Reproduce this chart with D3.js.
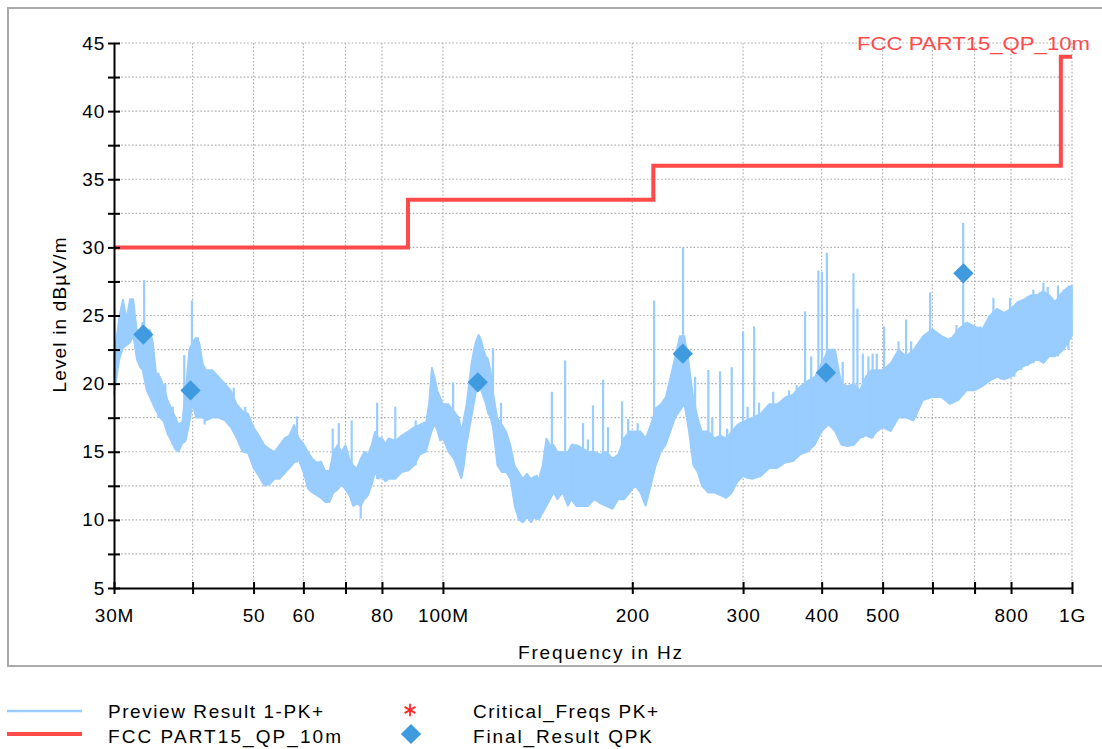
<!DOCTYPE html>
<html><head><meta charset="utf-8">
<script src="https://cdn.jsdelivr.net/npm/d3@7"></script>
<style>
body{margin:0;background:#fff}
svg text{font-family:"Liberation Sans",Arial,Helvetica,sans-serif;fill:#000}
</style>
</head><body>
<svg id="c" width="1102" height="749"></svg>
<script>
// ---- data (frequencies in MHz, levels in dBµV/m) ----
const envFreq = [30,30.3,30.6,31,31.4,31.8,32.2,32.6,33,33.3,33.8,34.2,34.6,35,35.5,36,36.5,37,37.5,38,38.5,39,39.5,40,40.5,41,41.5,42,43,44,45,46,47,48,49,50,51,52,53,54,55,56,57,58,59,60,61,62,63,64,65,66,67,68,69,70,71,72,73,74,75,76,77,78,79,80,81,82,84,86,88,90,92,94,95,96,97,98,99,100,102,104,106,107,108,109,110,111,112,113,114,115,116,117,118,119,120,121,122,124,126,128,130,132,134,136,138,140,142,144,146,148,150,152,155,158,160,163,166,170,174,178,182,186,190,194,198,202,206,210,214,218,222,226,230,234,238,242,246,250,254,258,264,270,276,282,288,294,300,310,320,330,340,350,360,370,380,390,400,410,420,430,440,450,460,470,480,490,500,515,530,545,560,580,600,620,640,660,680,700,720,740,760,780,800,820,840,860,880,900,920,940,960,980,1000];
const envHi = [22.0,23.5,25.0,26.2,24.8,26.2,26.2,24.0,23.8,24.5,23.6,24.0,23.0,20.8,20.5,19.8,18.8,18.2,17.6,17.0,17.2,19.5,22.5,23.0,23.4,23.0,21.5,21.0,21.0,20.5,20.0,19.5,18.5,18.0,17.8,16.8,16.2,15.5,15.2,15.0,15.5,16.0,16.2,17.0,16.0,15.6,15.0,14.5,14.2,14.3,13.6,13.6,15.0,15.5,15.0,15.5,14.5,14.0,13.8,14.5,15.0,14.8,15.5,16.5,16.0,16.0,15.6,16.0,15.8,16.2,16.5,16.8,17.0,17.2,18.5,21.2,20.5,19.5,19.0,18.5,18.5,18.0,17.5,16.5,17.5,18.5,20.0,21.5,22.5,23.2,23.6,23.2,22.5,22.0,21.8,21.0,19.5,18.5,17.5,17.0,16.5,15.5,14.0,13.5,13.0,13.4,13.0,13.2,13.0,14.0,16.0,15.5,15.5,15.0,15.0,15.0,15.5,15.5,15.3,15.0,15.0,14.8,15.0,14.5,14.8,16.0,16.5,16.5,16.5,16.0,17.0,18.2,18.5,19.0,20.5,22.0,23.5,23.5,21.5,19.0,17.5,16.5,16.5,16.0,16.2,16.0,16.5,17.0,17.2,17.5,17.8,18.5,18.5,19.0,19.2,19.8,20.2,20.5,21.5,22.5,22.5,20.0,19.8,20.0,19.5,20.5,21.0,21.0,21.0,21.5,22.5,22.0,22.5,23.5,24.0,23.5,23.2,24.0,24.5,24.2,24.0,25.0,25.5,25.2,25.5,26.0,26.2,26.5,26.5,26.8,26.5,26.0,26.6,27.0,27.2];
const envLo = [19.2,20.5,21.8,22.6,22.8,23.0,23.5,21.8,21.2,21.0,19.5,19.0,18.5,18.0,17.5,17.2,16.3,15.8,15.2,15.0,15.6,15.8,17.0,18.5,17.5,17.5,17.5,17.3,17.5,17.5,17.3,16.8,16.0,15.0,14.9,13.8,13.2,12.5,12.6,13.0,13.0,13.4,13.8,14.2,14.4,13.5,12.3,12.0,11.8,11.6,11.3,11.3,12.0,12.2,12.6,12.2,11.8,11.0,11.2,11.0,11.5,11.8,12.5,13.5,13.0,13.2,12.8,13.0,13.0,13.5,13.6,14.0,14.8,15.0,15.8,16.5,17.0,16.5,15.8,16.0,15.0,14.5,13.5,13.0,14.0,15.5,16.5,17.5,18.5,19.5,19.8,19.5,19.0,18.5,17.8,17.5,16.8,15.5,14.0,13.5,13.5,13.0,11.0,10.0,9.8,10.2,9.8,10.2,10.0,10.5,11.0,11.5,12.0,11.5,12.0,11.0,11.5,11.0,11.0,11.0,11.5,11.2,11.0,10.8,11.5,11.5,12.0,12.5,12.0,11.0,12.5,14.0,15.0,15.5,16.5,17.5,18.0,18.5,16.5,14.0,13.5,12.5,12.0,12.0,11.8,11.6,12.0,12.8,13.2,13.0,13.2,13.8,13.8,14.2,14.3,14.8,15.0,15.5,16.5,17.0,16.5,15.5,15.4,15.5,16.0,16.2,16.0,16.5,16.8,16.5,17.5,17.5,17.3,18.8,19.0,19.0,18.5,18.8,19.5,19.5,19.8,20.2,20.5,20.3,20.5,21.0,21.3,21.5,21.8,21.5,22.0,22.0,22.3,22.8,23.5];

const spikeFreq = [33.5,38.8,39.9,40.8,71.6,74,78.6,84,103.8,120.1,123.7,149,156.4,167,173.2,179.7,192.6,216.6,240.8,251.7,264.2,275.8,287.8,300,312.4,335,376.4,395.2,400.3,407.7,449.4,456,474.6,489.4,502.7,544.8,595,671.5,697,750,797,868,900.6,950,987,
  35.3,36.2,37.2,41.8,46.5,48.5,58.6,66.8,68.3,90.5,141,160.7,170,183,197,204,209,268,283,305,318,345,355,365,385,432,465,482,530,555,565,585,610,640,655,690,715,730,770,810,830,850,890,915,970];
const spikeTop  = [27.6,22.1,26.1,23.4,17.3,13.0,18.6,18.3,20.1,22.6,18.6,19.4,21.7,17.1,18.4,20.3,18.7,26.1,30.0,20.5,21.0,20.9,21.2,23.8,24.2,19.4,25.3,28.3,28.2,29.6,28.1,25.5,22.0,22.2,24.2,24.7,26.7,31.8,24.3,26.3,26.3,26.9,27.4,27.2,27.2,
  20.8,20.0,18.3,20.8,19.7,18.3,17.6,16.7,17.1,17.3,13.3,15.6,15.9,16.8,17.4,17.1,16.1,17.5,16.7,18.3,18.6,18.7,19.5,19.9,22.0,21.6,22.2,22.2,23.1,23.1,22.3,23.2,23.7,23.4,24.3,24.2,24.2,23.6,25.3,24.8,25.9,26.4,26.7,27.1,26.9];
const spikeBase = [22,16,18.5,18,12,10.1,13,14,15,17,14,12,12,12,12,12,12,15,20,14,13,12.5,12.5,15,15,14,16,17,17,18,16,16,16.5,16.5,17,17.5,19,20,19.5,20.5,20.5,21.5,21.5,22,22.5,
  17.5,16.8,15.5,17,16.5,15,14.2,12,12.5,14,10,11.5,11,11,12,12.5,11.5,12,11.8,13,13.2,14,14.2,14.5,15.5,15.5,16,16,17.5,17.3,17.5,18.8,19,18.5,18.8,19.5,19.8,20,20.3,20.5,21,21.3,21.8,22,22.5];

const limitFreq  = [30, 88, 216, 960, 1000];
const limitLevel = [30, 33.5, 36, 44, 44];

const qpkFreq  = [33.4, 39.7, 113.6, 240.6, 406.5, 672];
const qpkLevel = [23.6, 19.5, 20.1, 22.2, 20.8, 28.1];

const xTickValues = [30,40,50,60,70,80,100,200,300,400,500,600,700,800,1000];
const xTickText   = ["30M","","50","60","","80","100M","200","300","400","500","","","800","1G"];
const yTickValues = [5,7.5,10,12.5,15,17.5,20,22.5,25,27.5,30,32.5,35,37.5,40,42.5,45];

const legendItems = ["Preview Result 1-PK+","FCC PART15_QP_10m","Critical_Freqs PK+","Final_Result QPK"];

// ---- drawing ----
const svg = d3.select("#c");
const x = d3.scaleLog().domain([30,1000]).range([114,1072]);
const y = d3.scaleLinear().domain([5,45]).range([588,43]);

const traceColor = "#99ccff", limitColor = "#ff4a4a", qpkColor = "#3f9ae0";

// frame
svg.append("rect").attr("x",8).attr("y",8).attr("width",1110).attr("height",658)
  .attr("fill","none").attr("stroke","#aaaaaa").attr("stroke-width",2);

// grid
const grid = svg.append("g").attr("stroke","#b0b0b0").attr("stroke-width",1.2).attr("stroke-dasharray","1.6,2");
grid.selectAll(".hg").data(yTickValues.slice(1)).join("line").attr("class","hg")
  .attr("x1",114).attr("x2",1072).attr("y1",d=>y(d)).attr("y2",d=>y(d));
grid.selectAll(".vg").data(xTickValues.slice(1)).join("line").attr("class","vg")
  .attr("x1",d=>x(d)).attr("x2",d=>x(d)).attr("y1",43).attr("y2",588);

// preview trace: envelope band + spikes
const env = envFreq.map((f,i)=>({f, hi:envHi[i], lo:envLo[i]}));
svg.append("path").datum(env)
  .attr("d", d3.area().x(d=>x(d.f)).y0(d=>y(d.lo)).y1(d=>y(d.hi)))
  .attr("fill",traceColor).attr("stroke",traceColor).attr("stroke-width",1.6).attr("stroke-linejoin","bevel");
const spikes = spikeFreq.map((f,i)=>({f, t:spikeTop[i], b:spikeBase[i]}));
svg.append("g").selectAll("line").data(spikes).join("line")
  .attr("x1",d=>x(d.f)).attr("x2",d=>x(d.f)).attr("y1",d=>y(d.b)).attr("y2",d=>y(d.t))
  .attr("stroke",traceColor).attr("stroke-width",2.2);

// limit line
const lim = limitFreq.map((f,i)=>[f,limitLevel[i]]);
svg.append("path").datum(lim)
  .attr("d", d3.line().x(d=>x(d[0])).y(d=>y(d[1])).curve(d3.curveStepAfter))
  .attr("fill","none").attr("stroke",limitColor).attr("stroke-width",4).attr("stroke-linejoin","miter");
svg.append("text").attr("x",1090).attr("y",50).attr("text-anchor","end")
  .attr("font-size",18.5).attr("textLength",233).attr("lengthAdjust","spacingAndGlyphs")
  .style("fill",limitColor).text(legendItems[1]);

// final QPK diamonds
const diamond = d3.symbol(d3.symbolSquare, 205);
svg.append("g").selectAll("path").data(qpkFreq.map((f,i)=>[f,qpkLevel[i]])).join("path")
  .attr("d", diamond)
  .attr("transform", d=>`translate(${x(d[0])},${y(d[1])}) rotate(45)`)
  .attr("fill",qpkColor);

// axes
const xAxis = d3.axisBottom(x).tickValues(xTickValues)
  .tickFormat((d,i)=>xTickText[i]).tickSizeInner(6).tickSizeOuter(0);
const gx = svg.append("g").attr("transform","translate(0,588)").call(xAxis);
gx.select(".domain").attr("stroke","#000").attr("stroke-width",2);
gx.selectAll(".tick line").attr("y1",-6).attr("y2",6).attr("stroke","#000").attr("stroke-width",2);
gx.selectAll(".tick text").attr("y",21).attr("font-size",19).attr("letter-spacing","0.8px")
  .attr("font-family","Liberation Sans, Arial, sans-serif");

const yAxis = d3.axisLeft(y).tickValues(yTickValues)
  .tickFormat(d=> d%5===0 ? String(d) : "").tickSizeInner(6).tickSizeOuter(0);
const gy = svg.append("g").attr("transform","translate(114,0)").call(yAxis);
gy.select(".domain").attr("stroke","#000").attr("stroke-width",2);
gy.selectAll(".tick line").attr("x1",-6).attr("x2",6).attr("stroke","#000").attr("stroke-width",2);
gy.selectAll(".tick text").attr("x",-9).attr("font-size",19).attr("letter-spacing","0.8px")
  .attr("font-family","Liberation Sans, Arial, sans-serif");

// axis titles
svg.append("text").attr("x",600).attr("y",659).attr("text-anchor","middle")
  .attr("font-size",19).attr("textLength",164).attr("lengthAdjust","spacing").text("Frequency in Hz");
svg.append("text").attr("transform","translate(66,315) rotate(-90)").attr("text-anchor","middle")
  .attr("font-size",19).attr("textLength",155).attr("lengthAdjust","spacing").text("Level in dBµV/m");

// legend
const lg = svg.append("g");
lg.append("line").attr("x1",7).attr("x2",82).attr("y1",711).attr("y2",711).attr("stroke",traceColor).attr("stroke-width",2.5);
lg.append("line").attr("x1",7).attr("x2",82).attr("y1",734).attr("y2",734).attr("stroke",limitColor).attr("stroke-width",4);
lg.append("path").attr("d", d3.symbol(d3.symbolAsterisk, 110)()).attr("transform","translate(410,710)")
  .attr("fill","none").attr("stroke","#ff2a2a").attr("stroke-width",1.8);
lg.append("path").attr("d", diamond()).attr("transform","translate(411,734) rotate(45)").attr("fill",qpkColor);
const lgPos = [[108,718,215],[108,743,233],[473,718,185],[473,743,179]];
lg.selectAll("text").data(legendItems).join("text")
  .attr("x",(d,i)=>lgPos[i][0]).attr("y",(d,i)=>lgPos[i][1])
  .attr("font-size",19).attr("textLength",(d,i)=>lgPos[i][2]).attr("lengthAdjust","spacing")
  .text(d=>d);
</script>
</body></html>
